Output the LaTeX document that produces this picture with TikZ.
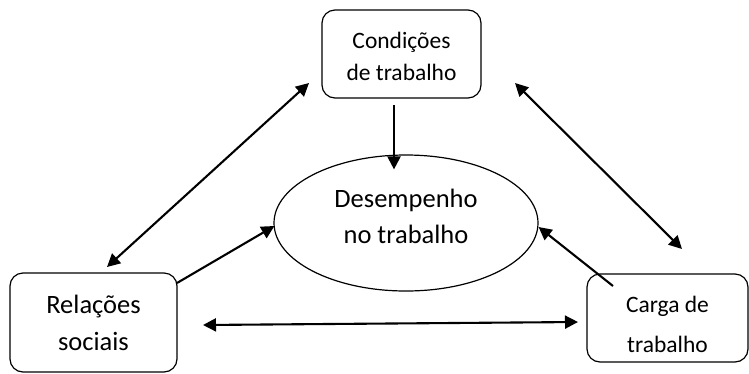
\documentclass[tikz,border=0pt]{standalone}
\usepackage{fontspec}
\setmainfont{Carlito}
\usetikzlibrary{calc, arrows.meta, shapes.geometric}

\begin{document}
\begin{tikzpicture}[x=1pt, y=-1pt,
  caixa/.style={draw, line width=1.2pt, rounded corners=13pt, align=center, inner sep=0pt, outer sep=0pt},
  seta/.style={line width=2.1pt, -{Triangle[length=13pt, width=13pt]}},
  seta2/.style={line width=2.1pt, {Triangle[length=13pt, width=13pt]}-{Triangle[length=13pt, width=13pt]}}]
\useasboundingbox (0,0) rectangle (749,373);
% caixas
\node[caixa, minimum width=159pt, minimum height=88pt, text height=58pt, text depth=6pt, font=\fontsize{23.5}{32}\selectfont] (cond) at (401.5,54) {Condições\\de trabalho};
\node[caixa, minimum width=167pt, minimum height=99pt, text height=62pt, text depth=7pt, font=\fontsize{26.5}{37}\selectfont] (rel) at (93.5,322.5) {Relações\\sociais};
\node[caixa, minimum width=161pt, minimum height=88pt, text height=74pt, text depth=6pt, font=\fontsize{23.5}{40}\selectfont] (carga) at (667.5,318) {Carga de\\trabalho};
\node[draw, ellipse, line width=1.2pt, minimum width=264pt, minimum height=136pt, inner sep=0pt, text height=48pt, text depth=7pt, align=center, font=\fontsize{26.5}{36}\selectfont] (des) at (406,223) {Desempenho\\no trabalho};
% setas duplas
\draw[seta2] ($(rel.north)+(13.5,-6)$) -- ($(cond.south west)+(-13,-15)$);
\draw[seta2] ($(cond.south east)+(34,-15)$) -- ($(carga.north)+(14.5,-25)$);
\draw[seta2] ($(rel.east)+(26,2.5)$) -- ($(carga.west)+(-9,4)$);
% setas para o desempenho
\draw[seta] ($(cond.south)+(-7.5,7)$) -- ($(des.north)+(-12,15)$);
\draw[seta] ($(rel.north east)+(0,10)$) -- ($(des.west)+(1,3)$);
\draw[seta] ($(carga.north west)+(26,12)$) -- ($(des.east)+(0,4)$);
\end{tikzpicture}
\end{document}
